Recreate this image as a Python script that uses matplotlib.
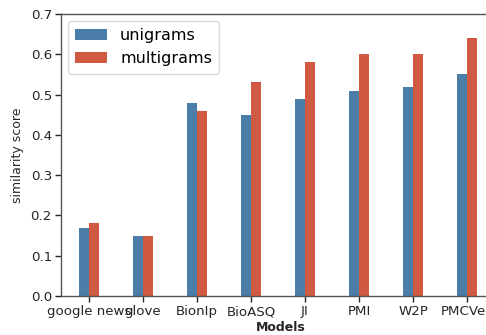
import matplotlib
matplotlib.use("Agg")
import matplotlib.pyplot as plt
import numpy as np

models = ["google news", "glove", "BionIp", "BioASQ", "JI", "PMI", "W2P", "PMCVec"]
unigrams = [0.17, 0.15, 0.48, 0.45, 0.49, 0.51, 0.52, 0.55]
multigrams = [0.18, 0.15, 0.46, 0.53, 0.58, 0.60, 0.60, 0.64]
yticks = [0.0, 0.1, 0.2, 0.3, 0.4, 0.5, 0.6, 0.7]

plt.rcParams["font.family"] = ["DejaVu Sans"]

fig = plt.figure(figsize=(4.86, 3.35), dpi=100)
ax = fig.add_axes([61 / 486, 39 / 335, 440 / 486, 282 / 335])

x = np.arange(len(models))
w = 0.19
ax.bar(x - w / 2, unigrams, w, color="#4a7ea8", label="unigrams")
ax.bar(x + w / 2, multigrams, w, color="#d05a41", label="multigrams")

ax.set_xlim(-0.52, 7.63)
ax.set_ylim(0, 0.7)
ax.set_xticks(x)
ax.set_xticklabels(models, fontsize=9.6, color="#262626")
ax.set_yticks(yticks)
ax.set_yticklabels([f"{v:.1f}" for v in yticks], fontsize=9.6, color="#262626")
ax.tick_params(axis="both", length=4, width=1, color="#262626", pad=2.5)
ax.set_xlabel("Models", fontsize=9, fontweight="bold", color="#262626", labelpad=2)
ax.set_ylabel("similarity score", fontsize=9, color="#262626", labelpad=5)
for s in ax.spines.values():
    s.set_color("#555555")
    s.set_linewidth(1)

leg = ax.legend(loc="upper left", fontsize=11.5, frameon=True, handlelength=2.0,
                handleheight=0.7, borderpad=0.45, labelspacing=0.5,
                handletextpad=0.8, borderaxespad=0.45)
leg.get_frame().set_edgecolor("#d0d0d0")

fig.savefig("out.png", dpi=100)
